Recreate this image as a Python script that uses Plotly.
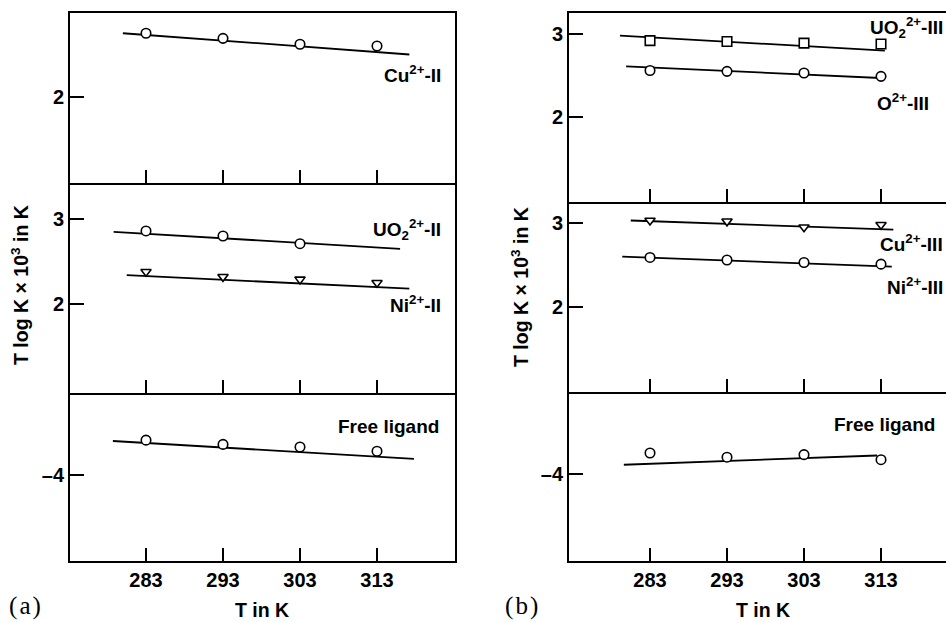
import plotly.graph_objects as go

# ---------------------------------------------------------------- data
T = [283, 293, 303, 313]
x_ticks = [283, 293, 303, 313]

# panel (a), system II
cu_II = [2.75, 2.69, 2.62, 2.60]
cu_II_fit_T = [280.0, 317.2]
cu_II_fit = [2.75, 2.50]

uo2_II_T = [283, 293, 303]
uo2_II = [2.86, 2.80, 2.71]
uo2_II_fit_T = [278.8, 316.0]
uo2_II_fit = [2.85, 2.65]

ni_II = [2.38, 2.32, 2.29, 2.25]
ni_II_fit_T = [280.5, 317.2]
ni_II_fit = [2.34, 2.18]

lig_a = [-3.59, -3.64, -3.67, -3.72]
lig_a_fit_T = [278.7, 317.8]
lig_a_fit = [-3.60, -3.81]

# panel (b), system III
uo2_III = [2.92, 2.91, 2.89, 2.88]
uo2_III_fit_T = [279.1, 313.5]
uo2_III_fit = [2.98, 2.80]

o_III = [2.56, 2.55, 2.53, 2.49]
o_III_fit_T = [279.9, 312.9]
o_III_fit = [2.61, 2.47]

cu_III = [3.03, 3.02, 2.95, 2.98]
cu_III_fit_T = [280.5, 314.6]
cu_III_fit = [3.03, 2.92]

ni_III = [2.59, 2.56, 2.53, 2.51]
ni_III_fit_T = [279.4, 314.4]
ni_III_fit = [2.60, 2.48]

lig_b = [-3.75, -3.80, -3.77, -3.83]
lig_b_fit_T = [279.6, 312.5]
lig_b_fit = [-3.89, -3.78]

# ---------------------------------------------------------------- layout helpers
W, H = 946, 622
SANS = "Liberation Sans, Arial, sans-serif"
SERIF = "Liberation Serif, Times New Roman, serif"
LW = 1.8


def px_x(p):
    return p / W


def px_y(p):
    return 1 - p / H


fig = go.Figure()


def add_series(n, xs, ys, fit_x, fit_y, symbol):
    xa, ya = ("x", "y") if n == 1 else (f"x{n}", f"y{n}")
    fig.add_trace(go.Scatter(x=fit_x, y=fit_y, mode="lines",
                             line=dict(color="black", width=LW),
                             xaxis=xa, yaxis=ya, hoverinfo="skip"))
    fig.add_trace(go.Scatter(x=xs, y=ys, mode="markers",
                             marker=dict(symbol=symbol,
                                         size=9.5 if symbol != "triangle-down" else 9,
                                         color="white",
                                         line=dict(color="black", width=1.6)),
                             xaxis=xa, yaxis=ya))


add_series(1, T, cu_II, cu_II_fit_T, cu_II_fit, "circle")
add_series(2, uo2_II_T, uo2_II, uo2_II_fit_T, uo2_II_fit, "circle")
add_series(2, T, ni_II, ni_II_fit_T, ni_II_fit, "triangle-down")
add_series(3, T, lig_a, lig_a_fit_T, lig_a_fit, "circle")
add_series(4, T, uo2_III, uo2_III_fit_T, uo2_III_fit, "square")
add_series(4, T, o_III, o_III_fit_T, o_III_fit, "circle")
add_series(5, T, cu_III, cu_III_fit_T, cu_III_fit, "triangle-down")
add_series(5, T, ni_III, ni_III_fit_T, ni_III_fit, "circle")
add_series(6, T, lig_b, lig_b_fit_T, lig_b_fit, "circle")

# sub-panel geometry:
# (x domain px, y domain px, x range, y range, y ticks, top?, bottom?, right frame?)
panels = [
    ((70, 455), (13, 183), (273.13, 323.13), (0.988, 2.988), [2], True, False, True),
    ((70, 455), (183, 393), (273.13, 323.13), (0.953, 3.424), [2, 3], False, False, True),
    ((70, 455), (393, 561), (273.13, 323.13), (-5.012, -3.035), [-4], False, True, True),
    ((569, 946), (13, 202), (272.48, 321.44), (0.976, 3.253), [2, 3], True, False, False),
    ((569, 946), (202, 392), (272.48, 321.44), (0.988, 3.25), [2, 3], False, False, False),
    ((569, 946), (392, 561), (272.48, 321.44), (-5.036, -3.024), [-4], False, True, False),
]

tick_font = dict(family=SANS, size=20, color="black", weight="bold")

for i, (xd, yd, xr, yr, yt, top, bottom, right) in enumerate(panels, start=1):
    xkey = "xaxis" if i == 1 else f"xaxis{i}"
    ykey = "yaxis" if i == 1 else f"yaxis{i}"
    anchor_y = "y" if i == 1 else f"y{i}"
    anchor_x = "x" if i == 1 else f"x{i}"
    # each panel draws its own bottom edge; only the topmost one adds the upper frame
    fig.layout[xkey] = dict(
        domain=[px_x(xd[0]), px_x(xd[1])], range=list(xr), anchor=anchor_y,
        showline=True, linecolor="black", linewidth=LW, mirror=top,
        ticks="inside", ticklen=13, tickwidth=1.6, tickcolor="black",
        tickvals=x_ticks, showticklabels=bottom, tickfont=tick_font,
        showgrid=False, zeroline=False, fixedrange=True,
    )
    fig.layout[ykey] = dict(
        domain=[px_y(yd[1]), px_y(yd[0])], range=list(yr), anchor=anchor_x,
        showline=True, linecolor="black", linewidth=LW, mirror=right,
        ticks="inside", ticklen=14, tickwidth=1.6, tickcolor="black",
        tickvals=yt, ticktext=[("–" + str(abs(v))) if v < 0 else str(v) for v in yt],
        tickfont=tick_font, showgrid=False, zeroline=False, fixedrange=True,
    )

# ---------------------------------------------------------------- text
label_font = dict(family=SANS, size=19, color="black", weight="bold")
annotations = []


def label(text, px, py, anchor="right", font=label_font, angle=0):
    annotations.append(dict(text=text, x=px_x(px), y=px_y(py), xref="paper", yref="paper",
                            xanchor=anchor, yanchor="middle", showarrow=False,
                            font=font, textangle=angle))


label("Cu<sup>2+</sup>-II", 443, 74)
label("UO<sub>2</sub><sup>2+</sup>-II", 443, 229)
label("Ni<sup>2+</sup>-II", 443, 304)
label("Free ligand", 441, 426)
label("UO<sub>2</sub><sup>2+</sup>-III", 945, 28)
label("O<sup>2+</sup>-III", 931, 102)
label("Cu<sup>2+</sup>-III", 945, 243)
label("Ni<sup>2+</sup>-III", 945, 286)
label("Free ligand", 937, 424)

title_font = dict(family=SANS, size=19.5, color="black", weight="bold")
label("T in K", 262, 610, anchor="center", font=title_font)
label("T in K", 763, 610, anchor="center", font=title_font)
label("T log K × 10<sup>3</sup> in K", 20, 285, anchor="center", font=title_font, angle=-90)
label("T log K × 10<sup>3</sup> in K", 520, 287, anchor="center", font=title_font, angle=-90)

panel_font = dict(family=SERIF, size=25, color="black")
label("(\u200aa\u200a)", 25, 606, anchor="center", font=panel_font)
label("(\u200ab\u200a)", 521, 606, anchor="center", font=panel_font)

fig.update_layout(
    width=W, height=H, margin=dict(l=0, r=0, t=0, b=0),
    paper_bgcolor="white", plot_bgcolor="white",
    showlegend=False, annotations=annotations,
)

fig.write_html("out.html")
